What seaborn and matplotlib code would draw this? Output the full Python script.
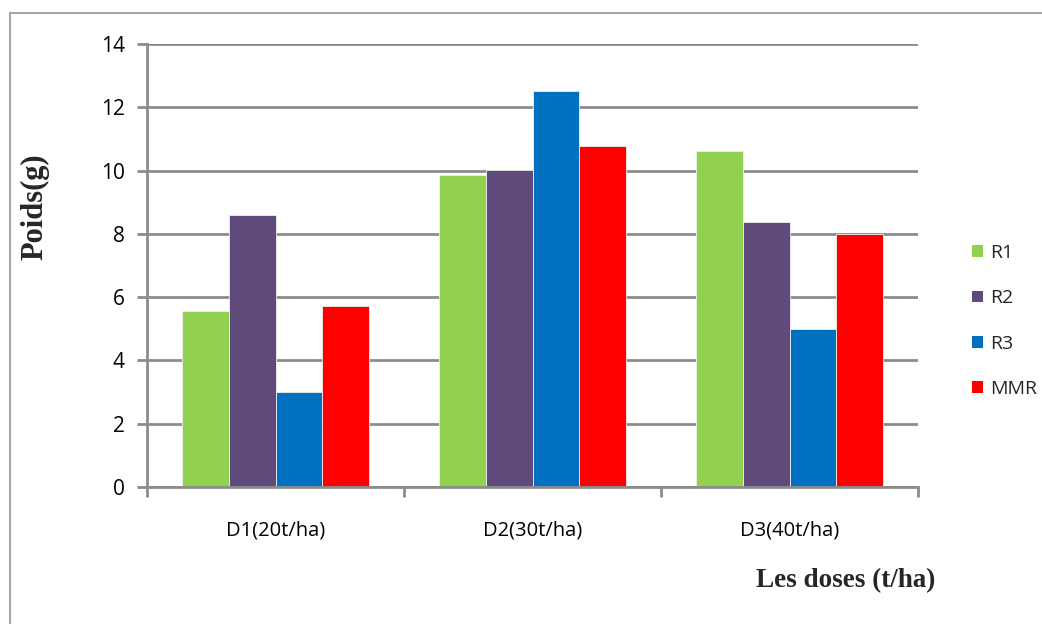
import matplotlib
matplotlib.use("Agg")
import matplotlib.pyplot as plt
import seaborn as sns
import pandas as pd
from matplotlib.lines import Line2D
from matplotlib.patches import Patch

categories = ["D1(20t/ha)", "D2(30t/ha)", "D3(40t/ha)"]
series = ["R1", "R2", "R3", "MMR"]
r1 = [5.56, 9.87, 10.61]
r2 = [8.59, 10.01, 8.36]
r3 = [3.0, 12.5, 5.0]
mmr = [5.72, 10.79, 7.99]
colors = ["#92D050", "#604A7B", "#0070C0", "#FF0000"]
yticks = [0, 2, 4, 6, 8, 10, 12, 14]

rows = []
for name, vals in zip(series, [r1, r2, r3, mmr]):
    for c, v in zip(categories, vals):
        rows.append({"dose": c, "serie": name, "val": v})
df = pd.DataFrame(rows)

sns.set_theme(style="white")
plt.rcParams['font.family'] = ['Open Sans', 'DejaVu Sans']

fig = plt.figure(figsize=(10.42, 6.24), dpi=100)
ax = fig.add_axes([147/1042, 1-487/624, (918-147)/1042, (487-44)/624])

sns.barplot(data=df, x="dose", y="val", hue="serie", order=categories,
            hue_order=series, palette=colors, width=0.728, gap=0,
            saturation=1, ax=ax, legend=False, linewidth=0.6,
            edgecolor="#f0f0f0")

grid_c = "#8c8c8c"
ax.set_ylim(0, 14)
ax.set_xlim(-0.5, 2.5)
ax.set_yticks(yticks)
ax.yaxis.grid(True, color=grid_c, linewidth=2.0)
ax.set_axisbelow(True)
for s in ["top", "right"]:
    ax.spines[s].set_visible(False)
for s in ["left", "bottom"]:
    ax.spines[s].set_color(grid_c)
    ax.spines[s].set_linewidth(2.0)

ax.tick_params(axis="y", which="major", left=True, length=7, width=2,
               color=grid_c, labelsize=15, pad=9, labelcolor="black")
ax.set_xticks([0, 1, 2])
ax.set_xticklabels(categories)
ax.set_xticks([-0.5, 0.5, 1.5, 2.5], minor=True)
ax.tick_params(axis="x", which="major", length=0, labelsize=14.5, pad=24,
               labelcolor="black")
ax.tick_params(axis="x", which="minor", bottom=True, length=7, width=2,
               color=grid_c)

ax.set_xlabel("")
ax.set_ylabel("")
fig.text(35/1042, 1-207/624, "Poids(g)", rotation=90, ha="center", va="center",
         family="Liberation Serif", fontweight="bold", fontsize=22)
fig.text(846/1042, 1-581/624, "Les doses (t/ha)", ha="center", va="center",
         family="Liberation Serif", fontweight="bold", fontsize=19.5)

handles = [Patch(facecolor=c, edgecolor="none") for c in colors]
leg = fig.legend(handles, series, loc="center left",
                 bbox_to_anchor=(972/1042, 1-321/624), frameon=False,
                 borderpad=0, borderaxespad=0,
                 fontsize=14, handlelength=0.55, handleheight=0.55,
                 handletextpad=0.36, labelspacing=1.4)

fig.add_artist(Line2D([10/1042, 10/1042], [0, 1-13/624], transform=fig.transFigure,
                      color="#a6a6a6", linewidth=1.5))
fig.add_artist(Line2D([10/1042, 1], [1-13/624, 1-13/624], transform=fig.transFigure,
                      color="#a6a6a6", linewidth=1.5))

fig.savefig("out.png", dpi=100)
